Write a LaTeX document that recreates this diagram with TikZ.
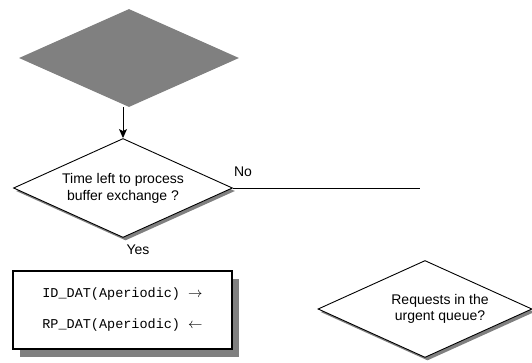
\documentclass[tikz,border=0pt]{standalone}
\usepackage{fontspec}
\setmainfont{Liberation Sans}
\setmonofont{Liberation Mono}
\usetikzlibrary{shapes.geometric,shadows,arrows.meta}

\begin{document}
\begin{tikzpicture}[x=1pt,y=-1pt,
        every node/.style={inner sep=0pt,font=\fontsize{14}{17}\selectfont},
        decision/.style={diamond,aspect=2.2,draw=black,line width=0.9pt,fill=white,
          minimum width=219pt,minimum height=99pt,align=center,
          drop shadow={shadow xshift=2.5pt,shadow yshift=-3pt,fill=gray,opacity=1}},
        procbox/.style={rectangle,draw=black,line width=1.6pt,fill=white,
          minimum width=219pt,minimum height=78pt,align=center,
          font=\fontsize{13.5}{17}\selectfont\ttfamily,
          drop shadow={shadow xshift=7pt,shadow yshift=-8pt,fill=gray,opacity=1}},
        flow/.style={line width=0.9pt}]
        \useasboundingbox (0,0) rectangle (532,362);
        % gray decision on top
        \node[diamond,aspect=2.2,fill=gray,minimum width=220pt,minimum height=98pt] (start) at (129,58) {};
        \node[decision] (check) at (123,188) {Time left to process\\buffer exchange ?};
        \draw[flow,-{Stealth[length=9pt,width=8pt,inset=2pt]}] (start.south -| check.north) -- (check.north);
        % no branch
        \coordinate (noend) at (420,188);
        \draw[flow] (check.east) -- (noend);
        \node (no) at (243,172) {No};
        \node (yes) at (138,250) {Yes};
        % exchange box
        \node[procbox] (xchg) at (122.5,310) {ID\_DAT(Aperiodic) $\rightarrow$\\[14pt]RP\_DAT(Aperiodic) $\leftarrow$};
        % urgent queue test
        \node[decision,minimum width=214pt,minimum height=97pt] (urgent) at (425,309) {};
        \node[align=center,font=\fontsize{14}{16}\selectfont] (urgenttext) at (440,309) {Requests in the\\urgent queue?};
\end{tikzpicture}
\end{document}
